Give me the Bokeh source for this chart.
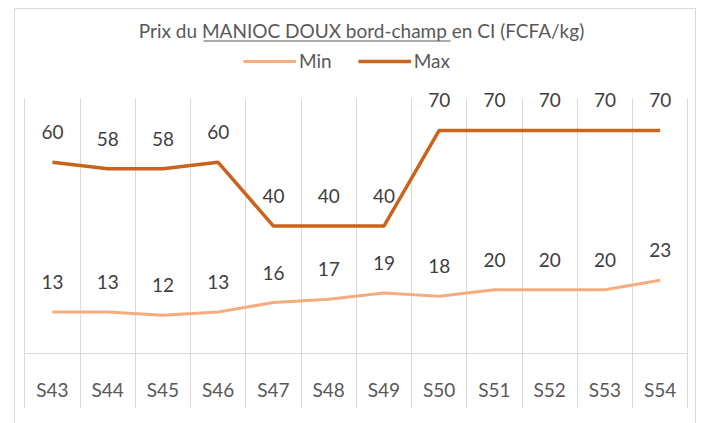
from bokeh.plotting import figure
from bokeh.models import (ColumnDataSource, Range1d, FixedTicker, LabelSet, Label,
                          Legend, LegendItem, BoxAnnotation)
from bokeh.core.properties import value
from bokeh.embed import file_html
from bokeh.resources import INLINE

weeks = ["S43", "S44", "S45", "S46", "S47", "S48", "S49", "S50", "S51", "S52", "S53", "S54"]
min_vals = [13, 13, 12, 13, 16, 17, 19, 18, 20, 20, 20, 23]
max_vals = [60, 58, 58, 60, 40, 40, 40, 70, 70, 70, 70, 70]
y_axis_max = 80

title_text = "Prix du MANIOC DOUX bord-champ en CI (FCFA/kg)"

MIN_COLOR = "#F5AD80"
MAX_COLOR = "#CA631C"
GRID = "#D9D9D9"
TXT = "#595959"
FONT = "Lato"

n = len(weeks)
xs = [i + 0.5 for i in range(n)]
src = ColumnDataSource(dict(x=xs, mn=min_vals, mx=max_vals,
                            mn_t=[str(v) for v in min_vals],
                            mx_t=[str(v) for v in max_vals]))

p = figure(title=None, frame_width=680, frame_height=344,
           x_range=Range1d(-0.1683, n + 0.1394), y_range=Range1d(0, 107.97),
           output_backend="svg", toolbar_location=None,
           min_border_left=0, min_border_right=0, min_border_top=0,
           min_border_bottom=70)
p.margin = (8, 0, 0, 14)
p.styles = {"border-top": "1px solid #D9D9D9",
            "border-left": "1px solid #D9D9D9",
            "border-right": "1px solid #D9D9D9"}
p.outline_line_color = None
p.background_fill_color = "white"
p.border_fill_color = "white"

p.yaxis.visible = False
p.ygrid.grid_line_color = None

p.xgrid.ticker = FixedTicker(ticks=list(range(n + 1)))
p.xgrid.grid_line_color = GRID
p.xgrid.grid_line_width = 1
try:
    p.xgrid.cross_bounds = (0, y_axis_max)
except Exception:
    pass

p.xaxis.ticker = FixedTicker(ticks=xs, minor_ticks=list(range(n + 1)))
p.xaxis.bounds = (0, n)
p.xaxis.major_label_overrides = {x: w for x, w in zip(xs, weeks)}
p.xaxis.axis_line_color = GRID
p.xaxis.major_tick_line_color = None
p.xaxis.major_tick_out = 0
p.xaxis.major_tick_in = 0
p.xaxis.minor_tick_line_color = GRID
p.xaxis.minor_tick_out = 55
p.xaxis.minor_tick_in = 0
p.xaxis.major_label_standoff = -31
p.xaxis.major_label_text_font = FONT
p.xaxis.major_label_text_font_size = "19px"
p.xaxis.major_label_text_color = TXT

r_min = p.line("x", "mn", source=src, line_color=MIN_COLOR, line_width=3)
r_max = p.line("x", "mx", source=src, line_color=MAX_COLOR, line_width=3.5)

for col, txt in (("mn", "mn_t"), ("mx", "mx_t")):
    p.add_layout(LabelSet(x="x", y=col, text=txt, source=src, y_offset=30,
                          text_align="center", text_baseline="middle",
                          text_font=value(FONT), text_font_size="19px",
                          text_color="#404040"))

# chart title with its underlined part
p.add_layout(Label(x=346, y=323, x_units="screen", y_units="screen",
                   text=title_text, text_align="center", text_baseline="middle",
                   text_font=FONT, text_font_size="19px", text_color=TXT))
p.add_layout(BoxAnnotation(left=188, right=435, top=313, bottom=312,
                           left_units="screen", right_units="screen",
                           top_units="screen", bottom_units="screen",
                           fill_color=TXT, fill_alpha=1, line_color=None))

legend = Legend(items=[LegendItem(label="Min", renderers=[r_min]),
                       LegendItem(label="Max", renderers=[r_max])],
                orientation="horizontal", location=(228, 281),
                glyph_width=53, glyph_height=20, label_standoff=3, spacing=26,
                padding=0, margin=0,
                label_text_font=FONT, label_text_font_size="19px",
                label_text_color=TXT, border_line_color=None,
                background_fill_alpha=0)
p.add_layout(legend)

open("out.html", "w").write(file_html(p, INLINE))
